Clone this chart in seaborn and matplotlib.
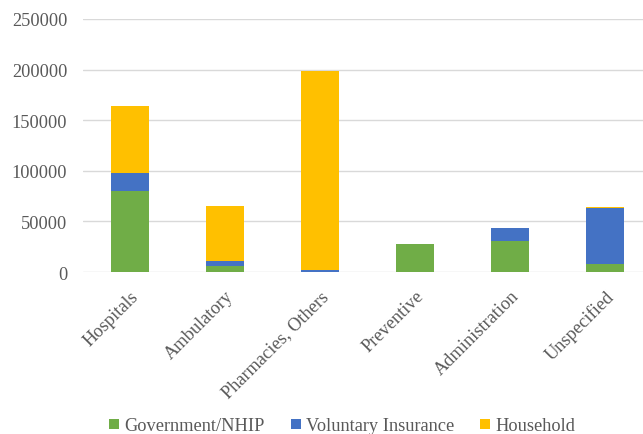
import matplotlib
matplotlib.use("Agg")
import matplotlib.pyplot as plt
from matplotlib.lines import Line2D
import numpy as np
import pandas as pd
import seaborn as sns

categories = ["Hospitals", "Ambulatory", "Pharmacies, Others", "Preventive",
              "Administration", "Unspecified"]
government = [80000, 6000, 0, 28000, 31000, 7500]
voluntary = [18000, 5000, 1500, 0, 12000, 56000]
household = [66000, 54000, 197500, 0, 0, 1000]

series_names = ["Government/NHIP", "Voluntary Insurance", "Household"]
colors = ["#70AD47", "#4472C4", "#FFC000"]
yticks = [0, 50000, 100000, 150000, 200000, 250000]

sns.set_theme(style="white")
plt.rcParams["font.family"] = ["Liberation Serif", "DejaVu Serif"]
text_color = "#595959"
fs = 13.2

fig = plt.figure(figsize=(6.43, 4.35), dpi=100)
ax = fig.add_axes([82.5 / 643, 1 - 273 / 435, 570 / 643, 253 / 435])

gov = np.array(government, dtype=float)
vol = np.array(voluntary, dtype=float)
hh = np.array(household, dtype=float)
layers = [gov + vol + hh, gov + vol, gov]
layer_colors = [colors[2], colors[1], colors[0]]

for heights, col in zip(layers, layer_colors):
    df = pd.DataFrame({"category": categories, "value": heights})
    sns.barplot(data=df, x="category", y="value", order=categories, color=col,
                width=0.4, linewidth=0, saturation=1, ax=ax, errorbar=None)

ax.set_xlim(-0.5, len(categories) - 0.5)
ax.set_ylim(0, 250000)
ax.set_yticks(yticks)
ax.set_yticklabels([str(v) for v in yticks])
ax.yaxis.grid(True, color="#D9D9D9", linewidth=1.0)
ax.set_axisbelow(True)
for s in ax.spines.values():
    s.set_visible(False)
ax.set_xlabel("")
ax.set_ylabel("")
ax.tick_params(axis="y", length=0, pad=11, labelsize=fs, colors=text_color)
ax.tick_params(axis="x", length=0, pad=11, labelsize=fs, colors=text_color)
for lbl in ax.get_xticklabels():
    lbl.set_rotation(45)
    lbl.set_ha("right")
    lbl.set_rotation_mode("anchor")

handles = [Line2D([0], [0], marker="s", linestyle="none", markersize=7,
                  markerfacecolor=c, markeredgewidth=0) for c in colors]
fig.legend(handles, series_names, loc="center", ncol=3,
           bbox_to_anchor=(340 / 643, 1 - 427 / 435), frameon=False,
           fontsize=fs, labelcolor=text_color, handletextpad=0.05,
           columnspacing=1.2, handlelength=1.0)

fig.savefig("out.png", dpi=100)
